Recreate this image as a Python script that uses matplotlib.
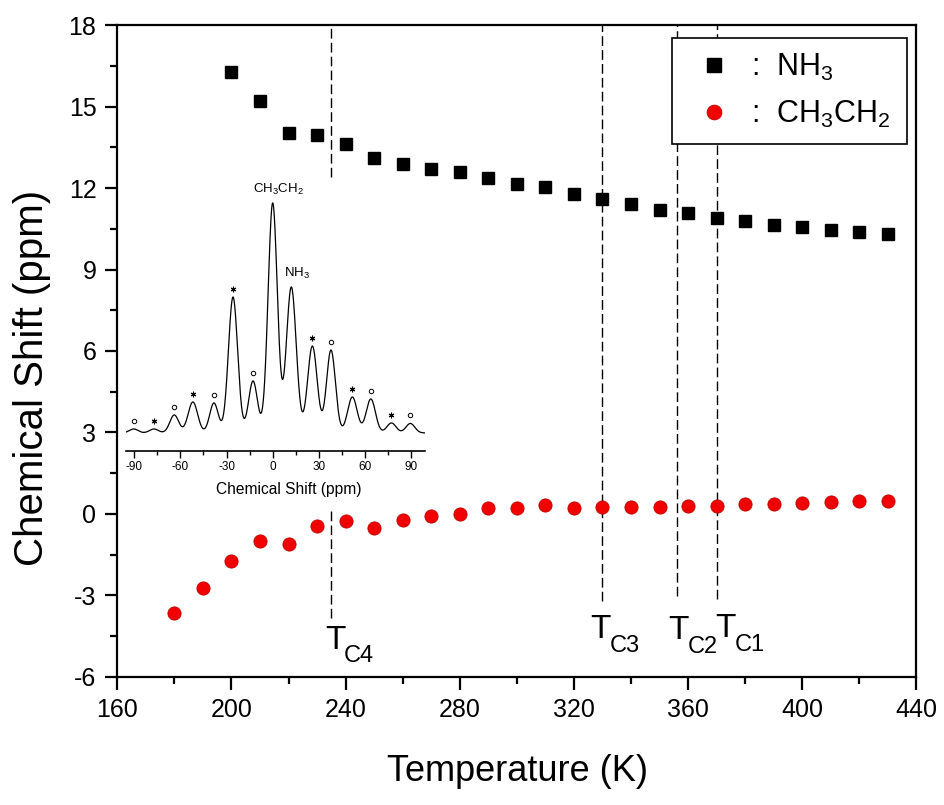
import numpy as np
import matplotlib
matplotlib.use("Agg")
import matplotlib.pyplot as plt
from matplotlib.ticker import MultipleLocator

plt.rcParams['font.family'] = ['Liberation Sans', 'DejaVu Sans']
plt.rcParams['mathtext.fontset'] = 'custom'
plt.rcParams['mathtext.rm'] = 'Liberation Sans'
plt.rcParams['axes.unicode_minus'] = False

# main data: temperature (K) vs chemical shift (ppm)
temp_nh3 = [200, 210, 220, 230, 240, 250, 260, 270, 280, 290, 300, 310,
            320, 330, 340, 350, 360, 370, 380, 390, 400, 410, 420, 430]
shift_nh3 = [16.29, 15.20, 14.04, 13.94, 13.63, 13.11, 12.89, 12.70, 12.60, 12.36, 12.15, 12.05,
             11.78, 11.59, 11.41, 11.20, 11.07, 10.91, 10.79, 10.64, 10.56, 10.44, 10.40, 10.30]
temp_ch = [180, 190, 200, 210, 220, 230, 240, 250, 260, 270, 280, 290, 300,
           310, 320, 330, 340, 350, 360, 370, 380, 390, 400, 410, 420, 430]
shift_ch = [-3.66, -2.73, -1.74, -1.01, -1.12, -0.43, -0.28, -0.52, -0.21, -0.09, 0.00, 0.20, 0.22,
            0.32, 0.20, 0.26, 0.26, 0.27, 0.29, 0.29, 0.36, 0.37, 0.40, 0.42, 0.46, 0.49]

# transition temperatures
tc_names = ['C1', 'C2', 'C3', 'C4']
tc_temp = [370, 356, 330, 235]
tc_bottom = [-3.14, -3.02, -3.21, -3.82]
tc_label_x = [369.4, 353.0, 325.6, 233.0]
tc_label_y = [-4.53, -4.62, -4.59, -4.99]
tc_sub_x = [376.4, 359.9, 332.6, 239.4]
tc_sub_y = [-5.04, -5.12, -5.08, -5.45]

# inset spectrum: peaks (ppm), heights, widths
peak_pos = [-90.4, -77.2, -64.0, -51.9, -38.2, -25.8, -12.8, 0.0, 12.1, 25.8, 37.9, 51.8, 63.8, 77.2, 89.5]
peak_h = [4, 4, 18, 31, 30, 136, 52, 230, 146, 87, 83, 36, 34, 10, 9.5]
peak_w = [2.9, 2.9, 2.9, 3.1, 2.8, 3.0, 2.9, 3.0, 3.2, 3.1, 2.9, 3.1, 3.0, 3.0, 2.9]
star_idx = [1, 3, 5, 9, 11, 13]
circ_idx = [0, 2, 4, 6, 10, 12, 14]

fig = plt.figure(figsize=(9.45, 8.05), dpi=100)
ax = fig.add_axes([0.1241, 0.1594, 0.8457, 0.8092])

# dashed lines (TC4 broken by the inset)
for i in range(3):
    ax.vlines(tc_temp[i], tc_bottom[i], 18, colors='black', linestyles=(0, (7, 3)), lw=1.0, zorder=1)
ax.vlines(tc_temp[3], 12.4, 18, colors='black', linestyles=(0, (7, 3)), lw=1.0, zorder=1)
ax.vlines(tc_temp[3], tc_bottom[3], 0.1, colors='black', linestyles=(0, (7, 3)), lw=1.0, zorder=1)

ax.plot(temp_nh3, shift_nh3, ls='none', marker='s', ms=8.5, color='black', label=':  NH$_3$ ', zorder=3)
ax.plot(temp_ch, shift_ch, ls='none', marker='o', ms=9.5, markerfacecolor='#f00000',
        markeredgecolor='#c00000', markeredgewidth=0.6, label=':  CH$_3$CH$_2$ ', zorder=3)

for i in range(4):
    ax.text(tc_label_x[i], tc_label_y[i], 'T', fontsize=24, ha='left', va='baseline')
    ax.text(tc_sub_x[i], tc_sub_y[i], tc_names[i], fontsize=17, ha='left', va='baseline')

ax.set_xlim(160, 440)
ax.set_ylim(-6, 18)
ax.xaxis.set_major_locator(MultipleLocator(40))
ax.xaxis.set_minor_locator(MultipleLocator(20))
ax.yaxis.set_major_locator(MultipleLocator(3))
ax.yaxis.set_minor_locator(MultipleLocator(1.5))
ax.tick_params(which='both', direction='out', width=1.6, labelsize=18, top=False, right=False)
ax.tick_params(which='major', length=9, pad=6)
ax.tick_params(which='minor', length=5)
for s in ax.spines.values():
    s.set_linewidth(1.6)

ax.set_xlabel('Temperature (K)', fontsize=26, va='center')
ax.xaxis.set_label_coords(0.5008, -0.1448)
ax.set_ylabel('Chemical Shift (ppm)', fontsize=29, va='center')
ax.yaxis.set_label_coords(-0.1061, 0.4593)

leg = ax.legend(loc='upper right', bbox_to_anchor=(906.7 / 945, 1 - 37.7 / 805),
                bbox_transform=fig.transFigure, borderaxespad=0, fontsize=22,
                fancybox=False, frameon=True, framealpha=1, edgecolor='black',
                handlelength=1.88, handletextpad=0.28, borderpad=0.45,
                labelspacing=0.54, markerscale=1.12)
leg.get_frame().set_linewidth(1.2)

# inset
ax_in = fig.add_axes([0.1333, 0.4398, 0.3164, 0.3366], facecolor='none')
ppm = np.linspace(-95.4, 99, 900)
spec = np.zeros_like(ppm)
for p, h, w in zip(peak_pos, peak_h, peak_w):
    spec += h * np.exp(-(ppm - p) ** 2 / (2 * w ** 2))
ax_in.plot(ppm, spec, color='black', lw=0.9)
ax_in.plot([peak_pos[i] for i in star_idx], [peak_h[i] + 8 for i in star_idx], ls='none',
           marker=(6, 2, 0), ms=4, mew=0.8, color='black')
ax_in.plot([peak_pos[i] for i in circ_idx], [peak_h[i] + 8 for i in circ_idx], ls='none',
           marker='o', ms=3.2, mew=0.7, markerfacecolor='white', markeredgecolor='black')
ax_in.text(-12.6, 236, 'CH$_3$CH$_2$', fontsize=9.5, ha='left', va='bottom')
ax_in.text(7.4, 152, 'NH$_3$', fontsize=9.5, ha='left', va='bottom')

ax_in.set_xlim(-95.4, 99)
ax_in.set_ylim(-18, 253)
ax_in.set_yticks([])
for side in ['left', 'right', 'top']:
    ax_in.spines[side].set_visible(False)
ax_in.spines['bottom'].set_linewidth(1.2)
ax_in.xaxis.set_major_locator(MultipleLocator(30))
ax_in.xaxis.set_minor_locator(MultipleLocator(15))
ax_in.tick_params(which='both', direction='out', width=1.0, labelsize=8.5, pad=2)
ax_in.tick_params(which='major', length=5)
ax_in.tick_params(which='minor', length=3)
ax_in.set_xlabel('Chemical Shift (ppm)', fontsize=11.2)
ax_in.xaxis.set_label_coords(0.545, -0.115)

fig.savefig('out.png', dpi=100)
